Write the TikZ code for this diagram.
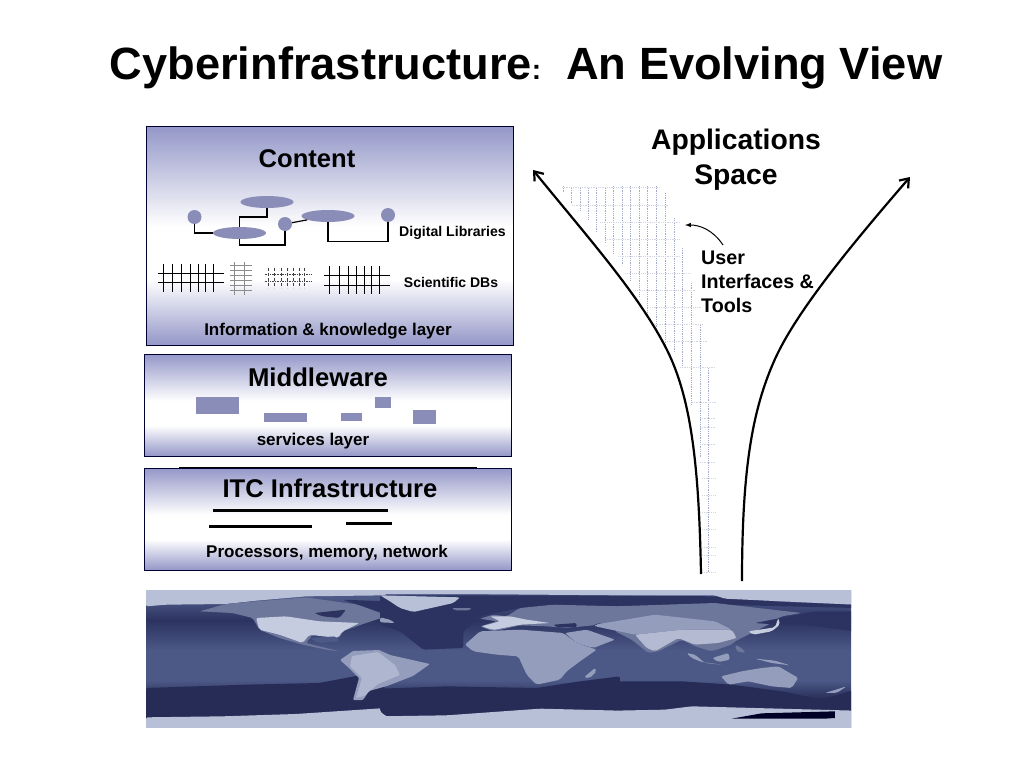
\documentclass[tikz,border=0pt]{standalone}
\usepackage{fontspec}
\setmainfont{Liberation Sans}
\usetikzlibrary{shapes.geometric,arrows.meta}
\definecolor{boxblue}{HTML}{9497C8}
\definecolor{partblue}{HTML}{8A8DB8}
\definecolor{gridblue}{HTML}{A4ABC8}
\definecolor{oceandark}{HTML}{262C56}
\definecolor{oceanmid}{HTML}{4C5886}
\definecolor{seadeep}{HTML}{2C3360}
\definecolor{icepale}{HTML}{B8C0D8}
\definecolor{landdim}{HTML}{6D769B}
\definecolor{landmid}{HTML}{959DBC}
\definecolor{landlit}{HTML}{C6CCE0}
\pgfdeclareverticalshading{layerfade}{100bp}{
	color(0bp)=(boxblue); color(25bp)=(boxblue); color(40bp)=(white);
	color(52bp)=(white); color(75bp)=(boxblue); color(100bp)=(boxblue)}
\pgfdeclareverticalshading{oceanfade}{100bp}{
	color(0bp)=(oceandark); color(35bp)=(oceandark); color(42bp)=(oceanmid);
	color(53bp)=(oceanmid); color(64bp)=(seadeep); color(72bp)=(oceanmid); color(100bp)=(oceanmid)}
\tikzset{
	layerbox/.style={draw=black!80!blue,semithick,shading=layerfade,inner sep=0pt},
	lab/.style={font=\bfseries\fontsize{#1}{#1}\selectfont,inner sep=0pt,align=center},
	blob/.style={ellipse,fill=partblue,minimum width=53pt,minimum height=12pt,inner sep=0pt},
	dot/.style={circle,fill=partblue,minimum size=14pt,inner sep=0pt},
	part/.style={fill=partblue,inner sep=0pt},
	tie/.style={line width=1.2pt,black},
	land/.style={rounded corners=2pt}
}
\begin{document}
\begin{tikzpicture}[x=1pt,y=-1pt,>=latex]
	\useasboundingbox (0,0) rectangle (1024,768);
	% title
	\node[lab=45.2] (title) at (526,68) {Cyberinfrastructure{\fontsize{28}{28}\selectfont :}\ \ An Evolving View};
	% three layers
	\node[layerbox,minimum width=367pt,minimum height=219pt] (contentbox) at (329.5,235.5) {};
	\node[layerbox,minimum width=367pt,minimum height=102pt] (middlebox) at (327.5,405) {};
	\node[layerbox,minimum width=367pt,minimum height=102pt] (itcbox) at (327.5,519) {};
	\draw[line width=1pt] (179,467.5) -- (477,467.5);
	\node[lab=25.6] (contentlab) at (307,159) {Content};
	\node[lab=14.1] (diglab) at (452.5,232.5) {Digital Libraries};
	\node[lab=14] (scilab) at (451,282) {Scientific DBs};
	\node[lab=17] (infolab) at (328,331) {Information \& knowledge layer};
	\node[lab=25.7] (middlelab) at (318,377) {Middleware};
	\node[lab=17] (servlab) at (313,441) {services layer};
	\node[lab=25.6] (itclab) at (330,488) {ITC Infrastructure};
	\node[lab=17] (proclab) at (327,553.5) {Processors, memory, network};
	% digital libraries
	\node[blob] (blobtop) at (267,202) {};
	\node[blob] (blobmid) at (239.5,233) {};
	\node[blob] (blobright) at (328,216) {};
	\node[dot] (dotleft) at (194.5,217) {};
	\node[dot] (dotmid) at (285,224) {};
	\node[dot] (dotright) at (388,215) {};
	\coordinate (bendtop) at (239.5,217);
	\coordinate (bendlow) at (239.5,245);
	\coordinate (bendright) at (328,241.5);
	\draw[tie] (dotleft) |- (blobmid);
	\draw[tie] (blobtop) |- (bendtop) -- (blobmid);
	\draw[tie] (blobmid) -- (bendlow) -| (dotmid);
	\draw[tie] (dotmid) -- (blobright);
	\draw[tie] (blobright) -- (bendright) -| (dotright);
	% scientific DBs
	\begin{scope}[line width=1.2pt]
		\foreach \y in {273.5,282.5}
			\draw (157.5,\y) -- (223.5,\y)
		;
		\foreach \x in {163.5,172.5,181.5,190.5,198.5,205.5,213.5}
			\draw (\x,264.3) -- (\x,292)
		;
	\end{scope}
	\begin{scope}[line width=.7pt,black!45]
		\foreach \y in {265,270,275,280,285,290}
			\draw (230,\y) -- (251.7,\y)
		;
		\foreach \x in {234.5,244.5}
			\draw (\x,262) -- (\x,294.5)
		;
	\end{scope}
	\begin{scope}[line width=.7pt,black!75]
		\foreach \y in {274.5,281.5}
			\draw[densely dotted] (264.7,\y) -- (311,\y)
		;
		\foreach \x in {268.5,274.5,281.5,287.5,293.5,299.5,304.5}
			\draw[densely dashed] (\x,267.7) -- (\x,287.7)
		;
	\end{scope}
	\begin{scope}[line width=1.2pt]
		\foreach \y in {275.5,285.5}
			\draw (323.7,\y) -- (390,\y)
		;
		\foreach \x in {329.5,339.5,348.5,356.5,364.5,371.5,379.5}
			\draw (\x,266) -- (\x,294.3)
		;
	\end{scope}
	% services
	\node[part,minimum width=43pt,minimum height=17pt] (partA) at (217.5,405) {};
	\node[part,minimum width=43pt,minimum height=9pt] (partB) at (285.5,417.5) {};
	\node[part,minimum width=21pt,minimum height=8pt] (partC) at (351.5,417) {};
	\node[part,minimum width=16pt,minimum height=11pt] (partD) at (383,402.5) {};
	\node[part,minimum width=23pt,minimum height=14pt] (partE) at (424.5,417) {};
	% processors
	\draw[line width=2.8pt]
		(213,510.5) -- (388,510.5)
		(209,526.5) -- (312,526.5)
		(346,523.5) -- (392,523.5)
	;
	% application space
	\begin{scope}[line width=.45pt,gridblue,dash pattern=on .8pt off 1pt]
		\foreach \x/\ya/\yb in {563/186/192,571.5/188/203,580/188/210,588.5/188/220,
			596.5/188/233,605.5/188/243,613.5/186/254,622.5/186/265,630.5/186/280,
			639.5/186/296,647.5/186/314,656.5/186/332,665.5/193/345,674.5/218/352,
			682.5/248/367,691.5/283/405,700.5/325/457,708.5/368/572}
			\draw (\x,\ya) -- (\x,\yb)
		;
	\end{scope}
	\begin{scope}[line width=.4pt,gridblue!50,dash pattern=on .8pt off 1pt]
		\foreach \y/\xa/\xb in {187/562/660,205/572/668,222/600/680,
			239/605/680,256/618/680,273/625/690,290/635/695,307/650/702,324/655/703,
			341/665/708,367/680/716,402/692/716,418/700/716,427/700/716,444/700/716,
			462/700/716,478/702/716,495/702/716,512/702/716,529/702/716,547/702/716,
			555/702/716,572/702/716}
			\draw (\xa,\y) -- (\xb,\y)
		;
	\end{scope}
	\coordinate (leftfoot) at (701,574);
	\coordinate (lefttip) at (533,170);
	\coordinate (rightfoot) at (742,581);
	\coordinate (righttip) at (910,177);
	\draw[->,>={Straight Barb[length=8pt,width=12pt]},line width=2.2pt]
		(leftfoot) .. controls (699,470) and (692,400) .. (667,350)
		.. controls (640,296) and (590,240) .. (lefttip)
	;
	\draw[->,>={Straight Barb[length=8pt,width=12pt]},line width=2.2pt]
		(rightfoot) .. controls (742,470) and (752,410) .. (775,359)
		.. controls (798,308) and (860,235) .. (righttip)
	;
	\node[lab=28.3] (applab) at (736,160) {Applications\\[7pt]Space};
	\node[lab=19.7,align=left,anchor=north west] (userlab) at (701,250.5) {User\\[4.5pt]Interfaces \&\\[4.5pt]Tools};
	\coordinate (usertip) at (685,225);
	\coordinate (usertail) at (723,245);
	\draw[->,line width=1pt] (usertail) .. controls (713,230) and (700,225) .. (usertip);
	% world map
	\begin{scope}
		\clip (146,590) rectangle (851,727);
		\shade[shading=oceanfade] (146,590) rectangle (851,727);
		% left part
		\begin{scope}[shift={(146,588)},scale=.3333]
			\fill[oceandark,land] (0,300) -- (300,290) -- (520,285) -- (640,262) -- (720,300) -- (720,370) -- (450,380) -- (0,392) -- cycle;
			\fill[icepale,land] (0,0) -- (720,0) -- (720,22) -- (480,25) -- (330,38) -- (240,48) -- (60,50) -- (0,55) -- cycle;
			\fill[icepale,land] (0,388) -- (230,385) -- (450,378) -- (720,360) -- (720,430) -- (0,430) -- cycle;
			\fill[landdim,land] (160,70) -- (240,48) -- (330,40) -- (480,28) -- (600,45) -- (720,60) -- (720,85) -- (660,105) -- (590,130) -- (580,150) -- (500,140) -- (480,165) -- (520,175) -- (580,190) -- (540,185) -- (470,170) -- (400,150) -- (340,125) -- (320,90) -- (260,75) -- cycle;
			\fill[landlit,land] (330,90) -- (420,85) -- (520,100) -- (640,105) -- (590,130) -- (575,150) -- (490,140) -- (470,165) -- (400,140) -- (340,125) -- cycle;
			\fill[seadeep,land] (505,75) -- (600,65) -- (580,90) -- (530,85) -- cycle;
			\fill[seadeep,land] (590,35) -- (720,40) -- (720,80) -- (650,55) -- cycle;
			\fill[oceanmid,land] (490,150) -- (570,145) -- (580,160) -- (520,165) -- cycle;
		\end{scope}
		% south america
		\fill[landmid,rounded corners=1pt] (340,660) -- (353,651) -- (379,650) -- (390,655) -- (430,664) -- (413,676) -- (387,686) -- (369,691) -- (363,700) -- (353,700) -- (359,678) -- (349,668) -- cycle;
		\fill[landlit,rounded corners=1pt,fill opacity=.55] (352,656) -- (378,652) -- (395,665) -- (400,675) -- (378,684) -- (364,696) -- (356,698) -- (362,678) -- (350,666) -- cycle;
		% middle part
		\begin{scope}[shift={(380,588)},scale=.3333]
			\fill[oceandark,land] (0,302) -- (200,295) -- (470,300) -- (600,280) -- (720,265) -- (720,368) -- (480,362) -- (200,380) -- (20,385) -- (0,370) -- cycle;
			\fill[seadeep,land] (0,22) -- (720,22) -- (720,55) -- (420,60) -- (300,85) -- (250,130) -- (250,180) -- (130,185) -- (60,130) -- (0,110) -- cycle;
			\fill[icepale,land] (0,0) -- (720,0) -- (720,22) -- (240,18) -- (0,18) -- cycle;
			\fill[icepale,land] (0,22) -- (240,28) -- (220,45) -- (100,72) -- (60,60) -- (30,40) -- cycle;
			\fill[icepale,land] (0,385) -- (200,382) -- (480,362) -- (720,368) -- (720,430) -- (0,430) -- cycle;
			\fill[landdim,land] (215,60) -- (275,60) -- (270,67) -- (225,67) -- cycle;
			\fill[landmid,land] (0,88) -- (30,95) -- (45,105) -- (0,103) -- cycle;
			\fill[landmid,land] (255,170) -- (300,130) -- (420,125) -- (550,135) -- (590,165) -- (650,185) -- (600,220) -- (560,250) -- (540,275) -- (470,290) -- (440,260) -- (415,205) -- (350,200) -- (280,190) -- cycle;
			\fill[landdim,land] (300,115) -- (350,100) -- (300,92) -- (340,80) -- (380,85) -- (420,60) -- (520,50) -- (720,55) -- (720,130) -- (660,110) -- (560,120) -- (500,115) -- (420,112) -- (340,130) -- cycle;
			\fill[landlit,land] (305,115) -- (360,100) -- (330,85) -- (390,85) -- (440,95) -- (510,105) -- (420,110) -- (340,126) -- cycle;
			\fill[landmid,land] (555,135) -- (620,125) -- (705,155) -- (640,180) -- (590,165) -- cycle;
			\fill[landmid,land] (612,268) -- (645,240) -- (650,250) -- (630,270) -- cycle;
			\fill[seadeep,land] (520,110) -- (590,105) -- (590,118) -- (530,118) -- cycle;
			\fill[seadeep,land] (640,110) -- (665,105) -- (670,125) -- cycle;
		\end{scope}
		% right part
		\begin{scope}[shift={(615,588)},scale=.3333]
			\fill[oceandark,land] (0,280) -- (200,280) -- (350,290) -- (500,310) -- (620,335) -- (720,305) -- (720,368) -- (230,358) -- (150,368) -- (0,368) -- cycle;
			\fill[seadeep,land] (0,22) -- (300,25) -- (500,42) -- (720,50) -- (720,60) -- (300,50) -- (0,55) -- cycle;
			\fill[icepale,land] (0,0) -- (720,0) -- (720,50) -- (500,40) -- (330,32) -- (300,22) -- (0,22) -- cycle;
			\fill[icepale,land] (0,368) -- (150,365) -- (230,355) -- (720,368) -- (720,430) -- (0,430) -- cycle;
			\fill[landdim,land] (0,55) -- (300,45) -- (560,75) -- (500,85) -- (460,110) -- (360,160) -- (350,170) -- (290,190) -- (240,175) -- (200,155) -- (130,190) -- (100,195) -- (50,155) -- (0,130) -- cycle;
			\fill[landlit,fill opacity=.8,land] (60,140) -- (200,125) -- (350,125) -- (365,150) -- (310,165) -- (240,170) -- (190,150) -- (120,190) -- (95,180) -- cycle;
			\fill[landmid,land] (-60,110) -- (120,80) -- (300,100) -- (350,125) -- (200,125) -- (60,140) -- (-60,115) -- cycle;
			\fill[seadeep,land] (420,105) -- (600,70) -- (720,70) -- (720,130) -- (560,110) -- (490,110) -- cycle;
			\fill[landlit,land] (400,130) -- (480,118) -- (490,90) -- (495,110) -- (470,130) -- (415,140) -- cycle;
			\fill[landmid,land] (215,195) -- (240,200) -- (270,225) -- (320,230) -- (260,222) -- (230,210) -- cycle;
			\fill[landmid,land] (292,210) -- (340,195) -- (345,215) -- (310,222) -- cycle;
			\fill[landdim,land] (360,170) -- (380,180) -- (392,195) -- (365,190) -- cycle;
			\fill[landmid,land] (420,212) -- (480,218) -- (525,232) -- (470,225) -- cycle;
			\fill[landmid,land] (318,265) -- (380,250) -- (440,240) -- (490,235) -- (550,270) -- (530,300) -- (470,295) -- (400,280) -- (340,290) -- cycle;
			\fill[landmid,land] (630,315) -- (695,295) -- (665,315) -- cycle;
			% map caption patch
			\fill[black!85!blue] (350,392) -- (440,376) -- (660,370) -- (660,390) -- (630,392) -- cycle;
		\end{scope}
	\end{scope}
\end{tikzpicture}
\end{document}
